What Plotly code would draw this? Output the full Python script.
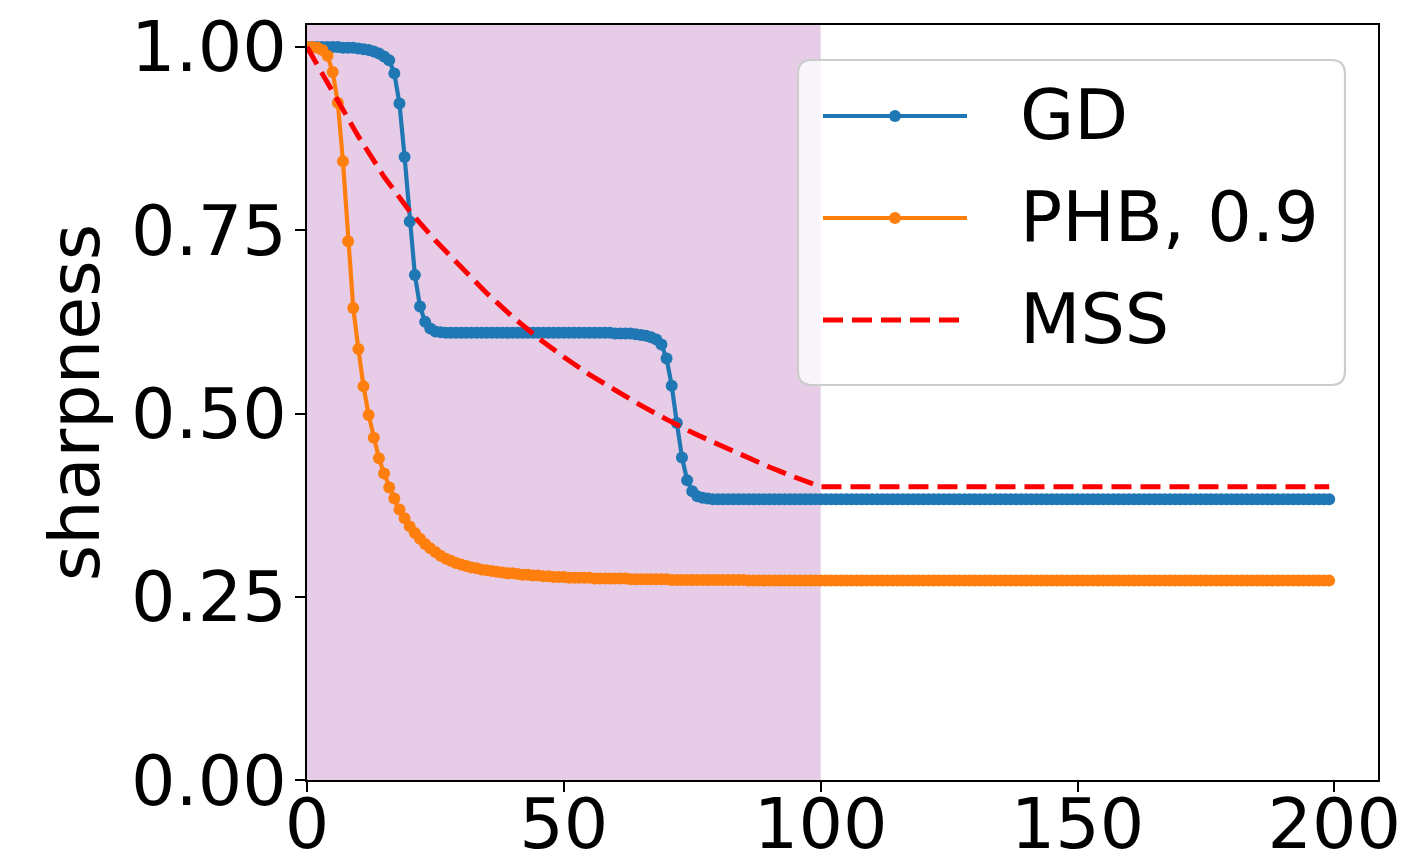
import plotly.graph_objects as go

# ---------------- data ----------------
steps = list(range(200))

gd = ([1.000] * 7 + [0.999] * 3 +
      [0.998, 0.997, 0.996, 0.994, 0.991, 0.987, 0.982, 0.964, 0.923, 0.850,
       0.762, 0.689, 0.646, 0.625, 0.616, 0.612, 0.611] +
      [0.610] * 33 + [0.609] * 4 +
      [0.608, 0.607, 0.606, 0.604, 0.601, 0.594, 0.575, 0.538, 0.487, 0.440,
       0.409, 0.394, 0.387, 0.385, 0.384] +
      [0.383] * 121)

phb = ([1.000, 1.000, 0.999, 0.996, 0.988, 0.966, 0.924, 0.844, 0.735, 0.644,
        0.588, 0.537, 0.498, 0.467, 0.439, 0.418, 0.399, 0.384, 0.369, 0.357,
        0.346, 0.337, 0.329, 0.322, 0.316, 0.311, 0.306, 0.302, 0.299, 0.296,
        0.294, 0.292, 0.290, 0.289, 0.287, 0.286, 0.285, 0.284, 0.283, 0.282,
        0.282, 0.281, 0.280, 0.280, 0.279, 0.279, 0.278, 0.278, 0.277, 0.277,
        0.277] +
       [0.276] * 5 + [0.275] * 7 + [0.274] * 8 + [0.273] * 15 + [0.272] * 114)

mss_x = [0, 5, 10, 15, 20, 25, 30, 35, 40, 45, 50, 55, 60, 65, 70, 75, 80, 85,
         90, 95, 100, 199]
mss_y = [1.000, 0.940, 0.878, 0.823, 0.776, 0.736, 0.699, 0.664, 0.632, 0.603,
         0.577, 0.553, 0.532, 0.511, 0.492, 0.474, 0.458, 0.442, 0.427, 0.413,
         0.400, 0.400]

series_names = ["GD", "PHB, 0.9", "MSS"]
series_colors = ["#1f77b4", "#ff7f0e", "red"]

shade_range = [0, 100]
x_ticks = [0, 50, 100, 150, 200]
y_ticks = [0.0, 0.25, 0.5, 0.75, 1.0]

# ---------------- figure geometry ----------------
W, H = 1419, 859
ML, MR, MT, MB = 307, 41, 25, 79
PW, PH = W - ML - MR, H - MT - MB

FONT = "DejaVu Sans"
FS = 70
LW = 4.2
MS = 12
DASH = "20px,9px"


def px(xp):
    return (xp - ML) / PW


def py(yp):
    return (H - MB - yp) / PH


fig = go.Figure()

fig.add_trace(go.Scatter(
    x=steps, y=gd, name=series_names[0], mode="lines+markers",
    line=dict(color=series_colors[0], width=LW),
    marker=dict(color=series_colors[0], size=MS, line=dict(width=0)),
))
fig.add_trace(go.Scatter(
    x=steps, y=phb, name=series_names[1], mode="lines+markers",
    line=dict(color=series_colors[1], width=LW),
    marker=dict(color=series_colors[1], size=MS, line=dict(width=0)),
))
fig.add_trace(go.Scatter(
    x=mss_x, y=mss_y, name=series_names[2], mode="lines",
    line=dict(color=series_colors[2], width=5, dash=DASH),
))

# shaded region
fig.add_shape(type="rect", xref="x", yref="paper",
              x0=shade_range[0], x1=shade_range[1], y0=0, y1=1,
              fillcolor="rgba(128,0,128,0.2)", line=dict(width=0),
              layer="below")

# ---------------- legend (matplotlib-style box) ----------------
bx0, bx1, by0, by1, r = 798, 1345, 60, 385, 14
rx, ry = r / PW, r / PH
X0, X1, Y0, Y1 = px(bx0), px(bx1), py(by1), py(by0)
path = (f"M{X0+rx},{Y0} L{X1-rx},{Y0} Q{X1},{Y0} {X1},{Y0+ry} "
        f"L{X1},{Y1-ry} Q{X1},{Y1} {X1-rx},{Y1} L{X0+rx},{Y1} "
        f"Q{X0},{Y1} {X0},{Y1-ry} L{X0},{Y0+ry} Q{X0},{Y0} {X0+rx},{Y0} Z")
fig.add_shape(type="path", xref="paper", yref="paper", path=path,
              fillcolor="rgba(255,255,255,0.8)",
              line=dict(color="#cccccc", width=2.2), layer="above")

row_y = [116, 218, 320]
lx0, lx1, tx = 823, 967, 1018
for i, name in enumerate(series_names):
    yy = py(row_y[i])
    fig.add_shape(type="line", xref="paper", yref="paper",
                  x0=px(lx0), x1=px(lx1), y0=yy, y1=yy,
                  line=dict(color=series_colors[i], width=LW if i < 2 else 5,
                            dash="solid" if i < 2 else DASH),
                  layer="above")
    if i < 2:
        cx = (lx0 + lx1) / 2
        fig.add_shape(type="circle", xref="paper", yref="paper",
                      x0=px(cx - MS / 2), x1=px(cx + MS / 2),
                      y0=py(row_y[i] + MS / 2), y1=py(row_y[i] - MS / 2),
                      fillcolor=series_colors[i], line=dict(width=0),
                      layer="above")
    fig.add_annotation(x=px(tx), y=py(row_y[i] - 1), xref="paper", yref="paper",
                       text=name, showarrow=False, xanchor="left",
                       yanchor="middle",
                       font=dict(family=FONT, size=FS, color="black"))

axis_common = dict(
    showline=True, linecolor="black", linewidth=2.2, mirror=True,
    ticks="outside", ticklen=10, tickwidth=2.2, tickcolor="black",
    showgrid=False, zeroline=False,
    tickfont=dict(family=FONT, size=FS, color="black"),
)

fig.update_xaxes(range=[0, 208.5], tickvals=x_ticks, ticklabelstandoff=-28,
                 **axis_common)
fig.update_yaxes(range=[0, 1.03], tickvals=y_ticks, tickformat=".2f",
                 ticklabelstandoff=-6,
                 title=dict(text="sharpness", standoff=9,
                            font=dict(family=FONT, size=FS, color="black")),
                 **axis_common)

fig.update_layout(
    width=W, height=H,
    margin=dict(l=ML, r=MR, t=MT, b=MB, autoexpand=False),
    paper_bgcolor="white", plot_bgcolor="white",
    font=dict(family=FONT, size=FS, color="black"),
    showlegend=False,
)

fig.write_html("out.html")
